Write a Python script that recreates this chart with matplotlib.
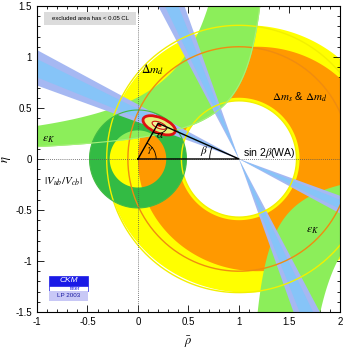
import numpy as np
import matplotlib
matplotlib.use('Agg')
import matplotlib.pyplot as plt
from matplotlib.path import Path
from matplotlib.patches import Polygon, Ellipse, Rectangle, Arc, PathPatch
from matplotlib.ticker import MultipleLocator

plt.rcParams['font.family'] = ['Liberation Sans', 'DejaVu Sans']
plt.rcParams['mathtext.fontset'] = 'stix'

# ---------------- data ----------------
apex_point = (1.0, 0.0)                        # (1,0) vertex of the triangle
hole_radius = 0.57                             # inner edge of the Delta m region
dm_yellow_fill = ((1.08, 0.0), (1.39, 1.31))   # (center, (semi-x, semi-y)) outer edge
dm_orange_fill = ((1.18, 0.0), (1.18, 1.10))
dm_lines = [1.31, 0.57]                        # Delta m_d circle lines (yellow)
dm_orange_line = 1.10
vub_center = (0.0, 0.0)
vub_radii = [0.28, 0.48]                       # |Vub/Vcb| ring
# eps_K boundaries: eta = k / (x0 - rho), (x0, k)
epsk_upper_outer = (1.167, 0.715)
epsk_upper_inner = (1.40, 0.29)
epsk_lower_inner = (1.016, 0.246)
epsk_lower_outer = (1.464, 0.504)
# sin 2beta (WA) : beta ranges in degrees
beta_outer = [19.8, 28.1]
beta_inner = [21.8, 26.1]
# global fit
fit_center = (0.21, 0.33)
fit_outer = (0.34, 0.15, -22.0)   # width, height, angle
fit_inner = (0.15, 0.06, -22.0)
apex = (0.20, 0.35)

xlim = (-1.0, 2.0)
ylim = (-1.5, 1.5)
xticks = [-1, -0.5, 0, 0.5, 1, 1.5, 2]
xticklabels = ['-1', '-0.5', '0', '0.5', '1', '1.5', '2']
yticks = [-1.5, -1, -0.5, 0, 0.5, 1, 1.5]
yticklabels = ['-1.5', '-1', '-0.5', '0', '0.5', '1', '1.5']

YELLOW = '#ffff00'
ORANGE = '#ff9900'
LGREEN = '#8cee5a'
DGREEN = '#33bb44'
BLUE_OUT = '#a6b8f2'
BLUE_IN = '#86c4f8'

fig = plt.figure(figsize=(3.49, 3.49), dpi=100)
ax = fig.add_axes([0.106, 0.106, 0.868, 0.877])
ax.set_xlim(*xlim)
ax.set_ylim(*ylim)

N = 400
tt = np.linspace(0, 2 * np.pi, N)

def ring_path(c_out, ab_out, c_in, r_in):
    xo = c_out[0] + ab_out[0] * np.cos(tt)
    yo = c_out[1] + ab_out[1] * np.sin(tt)
    xi = c_in[0] + r_in * np.cos(tt[::-1])
    yi = c_in[1] + r_in * np.sin(tt[::-1])
    verts = np.concatenate([np.c_[xo, yo], np.c_[xi, yi]])
    codes = ([Path.MOVETO] + [Path.LINETO] * (N - 1)) * 2
    return Path(verts, codes)

# Delta m regions (white hole centred on (1,0))
ax.add_patch(PathPatch(ring_path(dm_yellow_fill[0], dm_yellow_fill[1], apex_point, hole_radius),
                       facecolor=YELLOW, edgecolor='none', zorder=1))
ax.add_patch(PathPatch(ring_path(dm_orange_fill[0], dm_orange_fill[1], apex_point, hole_radius + 0.03),
                       facecolor=ORANGE, edgecolor='none', zorder=2))

# eps_K
def hyp(rho, p):
    x0, k = p
    return k / (x0 - rho)

rho_u = np.linspace(-1.05, 1.3, 800)
with np.errstate(divide='ignore', invalid='ignore'):
    up_top = np.clip(np.where(rho_u < epsk_upper_outer[0], hyp(rho_u, epsk_upper_outer), 1.7), -1.7, 1.7)
    up_bot = np.clip(np.where(rho_u < epsk_upper_inner[0], hyp(rho_u, epsk_upper_inner), 1.7), -1.7, 1.7)
ax.fill_between(rho_u, up_bot, up_top, where=up_bot < up_top, color=LGREEN, lw=0, zorder=3)

rho_l = np.linspace(1.0, 2.05, 800)
with np.errstate(divide='ignore', invalid='ignore'):
    lo_top = np.clip(np.where(rho_l > epsk_lower_inner[0], hyp(rho_l, epsk_lower_inner), -1.7), -1.7, 1.7)
    lo_bot = np.clip(np.where(rho_l > epsk_lower_outer[0], hyp(rho_l, epsk_lower_outer), -1.7), -1.7, 1.7)
ax.fill_between(rho_l, lo_bot, lo_top, where=lo_bot < lo_top, color=LGREEN, lw=0, zorder=3)

# |Vub/Vcb|
ax.add_patch(PathPatch(ring_path(vub_center, (vub_radii[1], vub_radii[1]), vub_center, vub_radii[0]),
                       facecolor=DGREEN, edgecolor='none', zorder=4))

# sin 2beta wedges (double cones through (1,0))
def wedge(angles, color, z):
    L = 5.0
    a1, a2 = np.radians(angles)
    cx, cy = apex_point
    for sgn in (1, -1):
        pts = [(cx, cy),
               (cx - sgn * L * np.cos(a1), cy + sgn * L * np.sin(a1)),
               (cx - sgn * L * np.cos(a2), cy + sgn * L * np.sin(a2))]
        ax.add_patch(Polygon(pts, closed=True, facecolor=color, edgecolor='none', zorder=z))

for b_rng, col, z in ((beta_outer, BLUE_OUT, 5), (beta_inner, BLUE_IN, 6)):
    wedge(b_rng, col, z)
    wedge([90 - b_rng[1], 90 - b_rng[0]], col, z)

# contour lines on top
t = np.linspace(0, 2 * np.pi, 500)
for r in dm_lines:
    ax.plot(apex_point[0] + r * np.cos(t), apex_point[1] + r * np.sin(t), color='#f2f000', lw=1.0, zorder=7)
ax.plot(apex_point[0] + dm_orange_line * np.cos(t), apex_point[1] + dm_orange_line * np.sin(t),
        color='#f08c10', lw=1.0, zorder=7)
ax.plot(vub_center[0] + vub_radii[1] * np.cos(t), vub_center[1] + vub_radii[1] * np.sin(t),
        color='#44bb44', lw=0.8, zorder=7)
with np.errstate(divide='ignore', invalid='ignore'):
    rr = np.linspace(-1.05, epsk_upper_inner[0] - 0.01, 400)
    ax.plot(rr, hyp(rr, epsk_upper_inner), color='#a6f07a', lw=0.8, zorder=7)

# dotted axes
ax.axhline(0, color='#555555', lw=0.6, ls=(0, (1, 1.5)), zorder=8)
ax.axvline(0, color='#555555', lw=0.6, ls=(0, (1, 1.5)), zorder=8)

# global fit
ax.add_patch(Ellipse(fit_center, fit_outer[0], fit_outer[1], angle=fit_outer[2],
                     facecolor='#e6f07a', edgecolor='#dd1111', lw=2.0, zorder=9))
ax.add_patch(Ellipse(fit_center, fit_inner[0], fit_inner[1], angle=fit_inner[2],
                     facecolor='#f4f29a', edgecolor='#cc1111', lw=0.8, zorder=10))
ax.add_patch(Ellipse(fit_center, 0.05, 0.025, angle=fit_inner[2],
                     facecolor='#cc0000', edgecolor='none', zorder=10))

# unitarity triangle
ax.plot([0, 1, apex[0], 0], [0, 0, apex[1], 0], color='black', lw=1.0, zorder=11)
gam = np.degrees(np.arctan2(apex[1], apex[0]))
bet = np.degrees(np.arctan2(apex[1], 1 - apex[0]))
ax.add_patch(Arc((0, 0), 0.36, 0.36, theta1=0, theta2=gam, color='black', lw=0.6, zorder=11))
ax.add_patch(Arc((1, 0), 0.58, 0.58, theta1=180 - bet, theta2=180, color='black', lw=0.6, zorder=11))
ax.add_patch(Arc(apex, 0.2, 0.2, theta1=180 + gam, theta2=360 - bet, color='black', lw=0.6, zorder=11))
ax.text(0.09, 0.07, r'$\gamma$', fontsize=8, zorder=12)
ax.text(0.61, 0.05, r'$\beta$', fontsize=8, zorder=12)
ax.text(0.18, 0.21, r'$\alpha$', fontsize=8, zorder=12)

# labels
ax.text(0.03, 0.84, r'$\Delta m_d$', fontsize=8.5, zorder=12)
ax.text(1.33, 0.57, r'$\Delta m_s$ & $\Delta m_d$', fontsize=8, zorder=12)
ax.text(-0.95, 0.17, r'$\epsilon_K$', fontsize=8.5, zorder=12)
ax.text(1.66, -0.72, r'$\epsilon_K$', fontsize=8.5, zorder=12)
ax.text(-0.93, -0.25, r'$|V_{ub}/V_{cb}|$', fontsize=8, zorder=12)
ax.text(1.04, 0.03, r'sin 2$\beta$(WA)', fontsize=7.6, zorder=12)

# excluded area box
ax.add_patch(Rectangle((0.023, 0.938), 0.304, 0.042, transform=ax.transAxes,
                       facecolor='#dcdcdc', edgecolor='none', zorder=12))
ax.text(0.175, 0.959, 'excluded area has < 0.05 CL', transform=ax.transAxes,
        fontsize=4.3, ha='center', va='center', zorder=13)

# CKMfitter logo
ax.add_patch(Rectangle((0.040, 0.085), 0.128, 0.033, transform=ax.transAxes,
                       facecolor='#1a1ae6', edgecolor='#1a1ae6', lw=0.5, zorder=12))
ax.text(0.104, 0.1015, 'CKM', transform=ax.transAxes, color='white', fontsize=6,
        style='italic', ha='center', va='center', zorder=13)
ax.add_patch(Rectangle((0.040, 0.069), 0.128, 0.016, transform=ax.transAxes,
                       facecolor='white', edgecolor='#1a1ae6', lw=0.5, zorder=12))
ax.text(0.125, 0.077, 'fitter', transform=ax.transAxes, color='#1a1ae6', fontsize=3.8,
        ha='center', va='center', zorder=13)
ax.add_patch(Rectangle((0.040, 0.036), 0.128, 0.033, transform=ax.transAxes,
                       facecolor='#c8c8f6', edgecolor='none', zorder=12))
ax.text(0.104, 0.0525, 'LP 2003', transform=ax.transAxes, color='#1a1aa0', fontsize=4.5,
        ha='center', va='center', zorder=13)

# axes styling
ax.set_xticks(xticks)
ax.set_xticklabels(xticklabels)
ax.set_yticks(yticks)
ax.set_yticklabels(yticklabels)
ax.xaxis.set_minor_locator(MultipleLocator(0.1))
ax.yaxis.set_minor_locator(MultipleLocator(0.1))
ax.tick_params(which='both', direction='in', top=True, right=True, labelsize=7, width=0.6)
ax.tick_params(which='major', length=5)
ax.tick_params(which='minor', length=2.5)
for s in ax.spines.values():
    s.set_linewidth(0.8)
    s.set_zorder(20)
ax.set_xlabel(r'$\bar{\rho}$', fontsize=9, labelpad=6)
ax.set_ylabel(r'$\bar{\eta}$', fontsize=9, labelpad=1)

fig.savefig('out.png', dpi=100)
